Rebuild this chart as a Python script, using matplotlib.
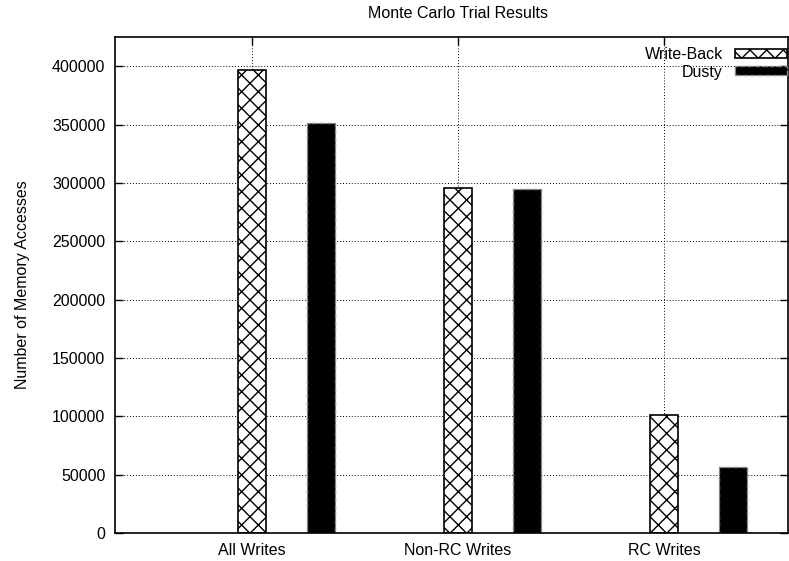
import numpy as np
import matplotlib
matplotlib.use("Agg")
import matplotlib.pyplot as plt

plt.rcParams['font.family'] = ['Liberation Sans', 'DejaVu Sans']
plt.rcParams['font.size'] = 11.5
plt.rcParams['hatch.linewidth'] = 1.0

# Monte Carlo results: memory accesses per write category
categories = ["All Writes", "Non-RC Writes", "RC Writes"]
write_back = [397000, 295500, 101500]
dusty = [351000, 294500, 56500]
series_names = ["Write-Back", "Dusty"]
y_ticks = np.arange(0, 400001, 50000)

fig = plt.figure(figsize=(7.89, 5.61), dpi=100)
ax = fig.add_axes([115 / 789, 28 / 561, 673 / 789, 496 / 561])

x = np.arange(len(categories))
offset = 0.335
width = 0.136

ax.bar(x, write_back, width, color='white', edgecolor='black',
       linewidth=1.2, hatch='xx', label=series_names[0], zorder=2)
ax.bar(x + offset, dusty, width, color='black', edgecolor='#888888',
       linewidth=1.0, linestyle='--', label=series_names[1], zorder=2)

ax.set_xlim(-0.665, 2.602)
ax.set_ylim(0, 425000)
ax.set_xticks(x)
ax.set_xticklabels(categories)
ax.set_yticks(y_ticks)
ax.ticklabel_format(axis='y', style='plain')

ax.tick_params(direction='in', length=6, width=1.0, top=True, right=True)
ax.tick_params(axis='y', pad=7)
ax.tick_params(axis='x', pad=7)
for spine in ax.spines.values():
    spine.set_linewidth(1.2)

ax.set_axisbelow(True)
ax.grid(True, color='black', linestyle=(0, (1, 2)), linewidth=0.7)

ax.set_ylabel("Number of Memory Accesses")
ax.yaxis.set_label_coords(-0.127, 0.5)
fig.text(0.58, 1 - 13 / 561, "Monte Carlo Trial Results",
         ha='center', va='center')

ax.legend(loc='upper right', bbox_to_anchor=(1.009, 0.994), frameon=False,
          markerfirst=False, handlelength=3.25, handleheight=0.5,
          handletextpad=0.75, labelspacing=0.15, borderaxespad=0.0,
          borderpad=0.45)

fig.savefig("out.png", dpi=100)
